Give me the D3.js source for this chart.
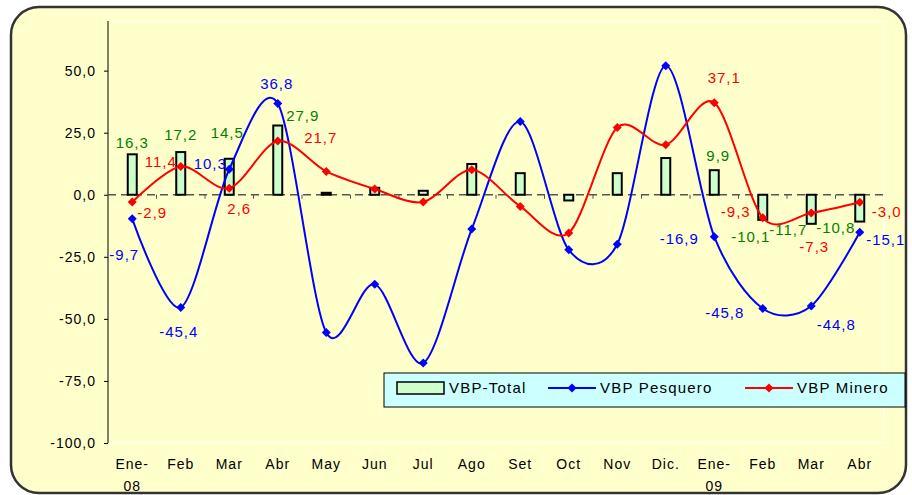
<!DOCTYPE html>
<html>
<head>
<meta charset="utf-8">
<script src="https://cdn.jsdelivr.net/npm/d3@7"></script>
<style>
  body { margin: 0; background: #fff; }
  svg text { font-family: "Liberation Sans", Arial, sans-serif; }
</style>
</head>
<body>
<div class="chart"></div>
<script>
// months, 2008-01 .. 2009-04
const categories = ["Ene-08", "Feb", "Mar", "Abr", "May", "Jun", "Jul", "Ago", "Set", "Oct", "Nov", "Dic.", "Ene-09", "Feb ", "Mar ", "Abr "]
const categoryLabels = [["Ene-", "08"], ["Feb"], ["Mar"], ["Abr"], ["May"], ["Jun"], ["Jul"], ["Ago"], ["Set"], ["Oct"], ["Nov"], ["Dic."], ["Ene-", "09"], ["Feb"], ["Mar"], ["Abr"]]

const vbpTotal = [16.3, 17.2, 14.5, 27.9, 0.8, 2.8, 1.6, 12.4, 8.7, -2.3, 8.7, 14.8, 9.9, -10.1, -11.7, -10.8]
const vbpPesquero = [-9.7, -45.4, 10.3, 36.8, -55.5, -36.0, -67.8, -13.8, 29.5, -22.2, -19.9, 52.0, -16.9, -45.8, -44.8, -15.1]
const vbpMinero = [-2.9, 11.4, 2.6, 21.7, 9.4, 2.3, -2.9, 10.1, -4.7, -15.4, 27.1, 20.1, 37.1, -9.3, -7.3, -3.0]

const yTicks = [-100, -75, -50, -25, 0, 25, 50]

// where the data labels sit, relative to their point (null = no label)
const totalLabelOffsets = [[0, -12], [0, -17], [-2, -26], [25, -10], null, null, null, null, null, null, null, null, [4, -14], [-12, 17], [-23, 6], [-24, 6]]
const pesqueroLabelOffsets = [[-8, 36], [-2, 24], [-19, -5], [-1, -20], null, null, null, null, null, null, null, null, [-35, 2], [-38, 4], [25, 19], [26, 8]]
const mineroLabelOffsets = [[20, 11], [-20, -5], [10, 20], [43, -3], null, null, null, null, null, null, null, null, [10, -25], [-27, -6], [3, 34], [27, 10]]

const locale = d3.formatLocale({ decimal: ",", thousands: ".", grouping: [3], currency: ["", ""], minus: "-" })
const fmt = locale.format(".1f")

const width = 912
const height = 495
const plot = { left: 108, top: 21, right: 884, bottom: 443 }

const svg = d3.select(".chart").append("svg")
  .attr("width", width)
  .attr("height", height)

// frame
svg.append("rect")
  .attr("x", 11).attr("y", 7)
  .attr("width", 895).attr("height", 486)
  .attr("rx", 28).attr("ry", 28)
  .attr("fill", "#FFFFCC")
  .attr("stroke", "#333")
  .attr("stroke-width", 2.5)

// plot area outline (faint white)
svg.append("path")
  .attr("d", `M${plot.left},${plot.top}H${plot.right}V${plot.bottom}H${plot.left}`)
  .attr("fill", "none")
  .attr("stroke", "#fff")
  .attr("stroke-width", 1)

const x = d3.scaleBand()
  .domain(categories)
  .range([plot.left, plot.right])
  .padding(0)

const y = d3.scaleLinear()
  .domain([-100, 70])
  .range([plot.bottom, plot.top])

const cx = d => x(d) + x.bandwidth() / 2

// y axis
const yAxis = svg.append("g")
  .attr("transform", `translate(${plot.left},0)`)
  .call(d3.axisLeft(y).tickValues(yTicks).tickFormat(fmt).tickSize(4).tickPadding(8))
yAxis.select(".domain").attr("d", `M0,${plot.top}V${plot.bottom}`).attr("stroke", "#000")
yAxis.selectAll("text")
  .attr("font-size", 14)
  .attr("letter-spacing", "1px")
  .attr("fill", "#000")
  .attr("font-family", "'Liberation Sans', Arial, sans-serif")

// x axis at zero, dashed
svg.append("line")
  .attr("x1", plot.left).attr("x2", plot.right)
  .attr("y1", y(0)).attr("y2", y(0))
  .attr("stroke", "#555")
  .attr("stroke-width", 1.5)
  .attr("stroke-dasharray", "8,5")

svg.append("g")
  .selectAll("line")
  .data(categories.slice(1))
  .enter().append("line")
  .attr("x1", d => x(d)).attr("x2", d => x(d))
  .attr("y1", y(0)).attr("y2", y(0) + 4)
  .attr("stroke", "#555")
  .attr("stroke-width", 1)

// category labels at the bottom
const catText = svg.append("g")
  .selectAll("text")
  .data(categories)
  .enter().append("text")
  .attr("x", d => cx(d))
  .attr("y", 469)
  .attr("text-anchor", "middle")
  .attr("font-size", 14)
  .attr("letter-spacing", "1px")
  .attr("fill", "#000")
catText.each(function(d, i) {
  const lines = categoryLabels[i]
  d3.select(this).selectAll("tspan")
    .data(lines)
    .enter().append("tspan")
    .attr("x", cx(d))
    .attr("dy", (l, j) => j === 0 ? 0 : 22)
    .text(l => l)
})

// bars
const barWidth = 9
svg.append("g")
  .selectAll("rect")
  .data(vbpTotal)
  .enter().append("rect")
  .attr("x", (d, i) => cx(categories[i]) - barWidth / 2)
  .attr("y", d => y(Math.max(0, d)))
  .attr("width", barWidth)
  .attr("height", d => Math.abs(y(d) - y(0)))
  .attr("fill", "#CCFFCC")
  .attr("stroke", "#000")
  .attr("stroke-width", 2)

// smoothed lines
const line = d3.line()
  .x((d, i) => cx(categories[i]))
  .y(d => y(d))
  .curve(d3.curveCardinal.tension(0.1))

const diamond = "M0,-4.5L4.5,0L0,4.5L-4.5,0Z"

function drawSeries(values, color) {
  svg.append("path")
    .datum(values)
    .attr("fill", "none")
    .attr("stroke", color)
    .attr("stroke-width", 2)
    .attr("d", line)
  svg.append("g")
    .selectAll("path")
    .data(values)
    .enter().append("path")
    .attr("d", diamond)
    .attr("transform", (d, i) => `translate(${cx(categories[i])},${y(d)})`)
    .attr("fill", color)
}

drawSeries(vbpPesquero, "#0000FF")
drawSeries(vbpMinero, "#FF0000")

// data labels
function drawLabels(values, offsets, color) {
  const items = values.map((v, i) => ({ v, i, off: offsets[i] })).filter(d => d.off)
  svg.append("g")
    .selectAll("text")
    .data(items)
    .enter().append("text")
    .attr("x", d => cx(categories[d.i]) + d.off[0])
    .attr("y", d => y(d.v) + d.off[1])
    .attr("dy", "0.35em")
    .attr("text-anchor", "middle")
    .attr("font-size", 15)
    .attr("letter-spacing", "1px")
    .attr("fill", color)
    .text(d => fmt(d.v))
}

drawLabels(vbpTotal, totalLabelOffsets, "#008000")
drawLabels(vbpMinero, mineroLabelOffsets, "#FF0000")
drawLabels(vbpPesquero, pesqueroLabelOffsets, "#0000FF")

// legend
const legend = svg.append("g").attr("transform", "translate(384,373)")
legend.append("rect")
  .attr("width", 521).attr("height", 34)
  .attr("fill", "#CCFFFF")
  .attr("stroke", "#000")
  .attr("stroke-width", 1)

legend.append("rect")
  .attr("x", 13).attr("y", 9)
  .attr("width", 47).attr("height", 12)
  .attr("fill", "#CCFFCC")
  .attr("stroke", "#000")
  .attr("stroke-width", 1.5)

const legendLines = [
  { color: "#0000FF", x0: 164 },
  { color: "#FF0000", x0: 361 }
]
legendLines.forEach(l => {
  legend.append("line")
    .attr("x1", l.x0).attr("x2", l.x0 + 48)
    .attr("y1", 15).attr("y2", 15)
    .attr("stroke", l.color).attr("stroke-width", 2)
  legend.append("path")
    .attr("d", diamond)
    .attr("transform", `translate(${l.x0 + 24},15)`)
    .attr("fill", l.color)
})

const legendTexts = [
  { text: "VBP-Total", x: 65 },
  { text: "VBP Pesquero", x: 216 },
  { text: "VBP Minero", x: 413 }
]
legend.selectAll("text.lg")
  .data(legendTexts)
  .enter().append("text")
  .attr("class", "lg")
  .attr("x", d => d.x)
  .attr("y", 15)
  .attr("dy", "0.35em")
  .attr("font-size", 15)
  .attr("letter-spacing", "1.2px")
  .attr("fill", "#000")
  .text(d => d.text)
</script>
</body>
</html>
